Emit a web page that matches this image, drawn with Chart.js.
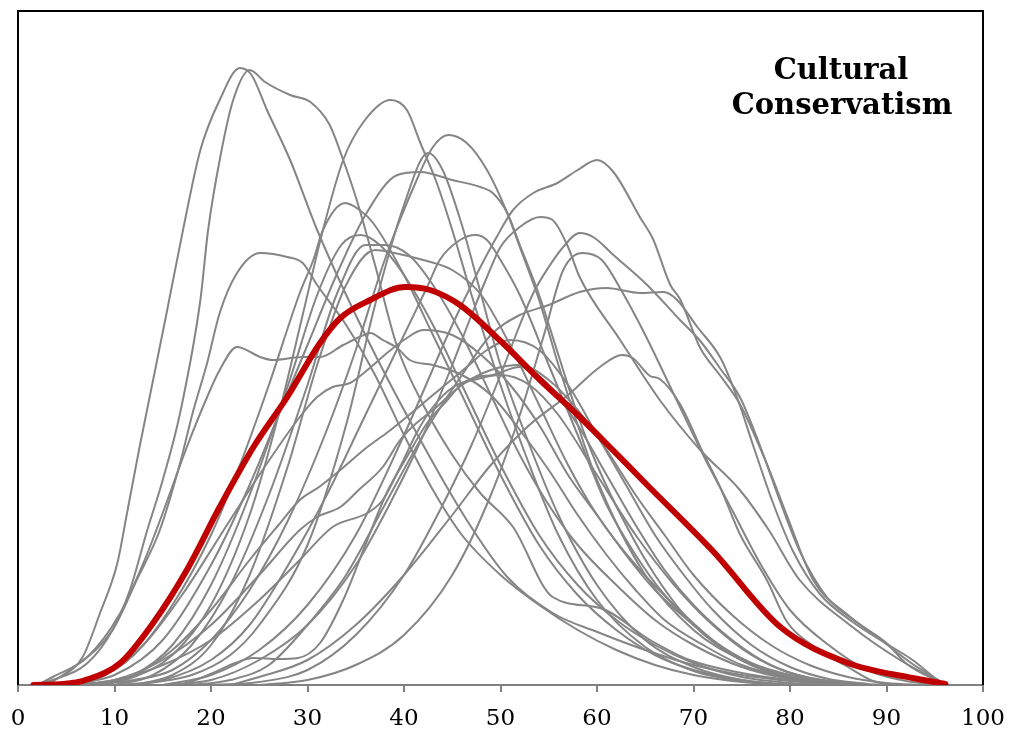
<!DOCTYPE html>
<html>
<head>
<meta charset="utf-8">
<script src="https://cdn.jsdelivr.net/npm/chart.js@4.4.1/dist/chart.umd.min.js"></script>
<style>
  html, body { margin: 0; padding: 0; background: #fff; }
  #wrap { width: 1012px; height: 734px; }
</style>
</head>
<body>
<div id="wrap"><canvas id="myChart" width="1012" height="734"></canvas></div>
<script>
// ------------------------ data: [score, density] pairs ------------------------
var xTicks = [0, 10, 20, 30, 40, 50, 60, 70, 80, 90, 100];
var chartTitle = ["Cultural", "Conservatism"];

// pooled curve (red)
var mean = [[1.6,0],[4.7,1],[7,5],[10.6,22],[14,62],[17.5,115],[20.9,178],[24.4,238],[27.9,288],[31.3,342],[33.4,367],[36.5,385],[40.1,398],[42.7,395],[45.8,380],[49.9,345],[54.1,305],[58,270],[60.3,248],[65.2,200],[72,134],[79,58],[86,22],[92.7,7],[96.1,1]];

// individual curves (grey)
var g1 = [[2,0],[4.4,8],[6.7,28],[8.5,72],[10.3,122],[11.3,172],[12.6,238],[14,305],[15.4,372],[17.1,455],[18.9,535],[20.9,585],[23,617],[24.2,610],[25.8,575],[28.2,525],[31,455],[36,350],[41.3,252],[46.5,165],[50.7,108],[55.4,72],[60.3,52],[65,35],[70,20],[75,10],[80,4],[85,0]];
var g2 = [[2,0],[3.6,5],[7.2,22],[9.8,55],[11.6,95],[13.4,155],[15,205],[16.8,272],[18.9,385],[19.7,455],[21,530],[22.3,585],[24,615],[25.6,603],[28.2,590],[30.3,583],[32.3,560],[33.7,525],[35.1,485],[37,420],[39.3,338],[42,280],[45,230],[47.9,192],[51.3,158],[55.4,88],[60.3,77],[65.5,45],[69.6,25],[75,12],[80,5],[86,0]];
var g3 = [[8,0],[12,8],[16,30],[20,80],[24,170],[27,270],[29.5,370],[31.6,455],[33.7,525],[35.8,563],[38.6,585],[40.3,575],[41.7,542],[43.4,502],[45,455],[47,390],[50,300],[53,220],[56,150],[60,85],[65,38],[70,14],[75,4],[80,0]];
var g4 = [[8,0],[12,5],[16,15],[20,45],[24,95],[28,165],[32,255],[35,335],[38,425],[41,498],[43,538],[44.6,550],[46.5,542],[48.6,515],[50.7,472],[52,438],[54,385],[56,320],[58,260],[60,205],[65,110],[70,55],[75,25],[80,8],[85,1]];
var g5 = [[12,0],[18,10],[22,30],[25,60],[30,140],[34,260],[37,380],[40,480],[42.5,532],[44,515],[46,460],[48,390],[50,320],[53,240],[56,170],[60,100],[65,45],[70,18],[75,5],[80,0]];
var g6 = [[15,0],[20,10],[25,35],[30,80],[35,150],[40,250],[45,360],[47.5,410],[49.6,448],[51.3,475],[53.4,492],[55.9,502],[58,515],[60,525],[61.7,513],[64.5,467],[65.8,446],[67.6,400],[68.6,386],[70.7,337],[72.8,309],[74.8,281],[77.6,221],[79.7,169],[82.4,105],[86,70],[89.3,46],[92.7,21],[96,1]];
var g7 = [[5,1],[10,10],[15,45],[20,120],[24,200],[27,270],[30,340],[33,410],[36,470],[39.3,510],[41.7,513],[45,505],[47.9,498],[49.2,492],[50.7,472],[52,440],[54,390],[56,330],[58,270],[60,220],[63,160],[66,110],[70,60],[75,25],[80,8],[85,1]];
var g8 = [[6,0],[8,5],[12,30],[16,80],[20,150],[23,220],[26,300],[29.2,392],[30.6,425],[31.6,455],[33.9,482],[35.4,475],[36.8,462],[40,410],[43,350],[46,290],[50,210],[54,140],[58,90],[62,55],[66,30],[70,15],[75,5],[80,0]];
var g9 = [[15,0],[20,5],[25,25],[30,60],[35,120],[39,190],[42,250],[45,320],[47,370],[48.6,408],[50,438],[52,458],[54.1,468],[55.4,465],[57,438],[58.2,408],[62.4,345],[66.5,285],[70.7,235],[74.8,195],[77.8,155],[81,105],[86.2,60],[91.4,25],[96,1]];
var g10 = [[20,0],[25,3],[30,15],[35,50],[40,110],[44,180],[47,240],[50,310],[52,360],[53.4,392],[55,418],[56.5,438],[58.2,452],[59.6,448],[61.7,430],[65.2,400],[68.6,365],[70.7,344],[72.8,316],[74.8,288],[76.9,239],[79,183],[81,134],[83.8,88],[86.9,63],[90,42],[92.1,21],[96,1]];
var g11 = [[10,0],[15,5],[20,25],[24,60],[28,120],[32,190],[36,270],[40,350],[42.4,398],[43.7,425],[45.8,445],[47.4,450],[48.6,445],[50,425],[52,390],[55,320],[58,250],[61,180],[64,130],[67,90],[70,60],[75,25],[80,8],[85,1]];
var g12 = [[3,0],[5.4,15],[9.8,55],[12.3,105],[14.7,155],[16.8,222],[18.1,272],[19.6,322],[20.9,372],[22.7,412],[25.1,432],[27.9,428],[29.5,422],[31,400],[34,360],[37,310],[40,250],[43,195],[46,150],[50,110],[54,80],[58,55],[62,35],[66,20],[70,10],[75,3],[80,0]];
var g13 = [[8,0],[12,10],[16,40],[20,100],[24,190],[28,300],[31,390],[33.5,440],[35.5,450],[37.5,440],[40,410],[43,360],[46,300],[50,220],[54,150],[58,100],[62,65],[66,40],[70,22],[75,8],[80,2],[84,0]];
var g14 = [[10,0],[14,10],[18,40],[22,100],[26,190],[30,300],[33,390],[36,440],[38,440],[40.5,430],[43,400],[46,350],[49,290],[52,230],[55,180],[58,140],[62,100],[66,65],[70,40],[75,18],[80,6],[85,1]];
var g15 = [[12,0],[16,10],[20,40],[24,110],[28,220],[31,320],[34,400],[37,435],[39,432],[42,425],[45,415],[48,390],[51,340],[54,280],[57,220],[60,170],[64,120],[68,80],[72,45],[76,22],[80,10],[85,2]];
var g16 = [[25,0],[30,5],[35,20],[40,50],[45,110],[49,190],[52,270],[54.5,350],[56.5,415],[58.5,432],[60.5,425],[62.5,395],[65,350],[68,290],[71,230],[74,175],[77,120],[80,75],[84,40],[88,15],[92,4],[96,0]];
var g17 = [[2,0],[3.6,8],[7.2,28],[10.6,72],[13,122],[15,172],[17.5,238],[19.6,288],[20.9,315],[22.7,338],[25.1,328],[26.4,325],[29.5,328],[31.3,328],[33.7,340],[35.4,348],[36.5,352],[37.8,345],[39.3,337],[40.6,325],[43,320],[46,310],[49,290],[52,255],[55,215],[58,170],[61,130],[64,95],[67,65],[71,40],[75,20],[80,7],[85,1]];
var g18 = [[18,0],[22,5],[26,20],[30,60],[34,110],[38,180],[42,250],[46,310],[49,350],[52,370],[55,380],[58.2,393],[61,397],[64.5,392],[66.9,393],[68.2,386],[70.4,358],[72.8,327],[74.5,288],[76.2,239],[78.2,183],[80.3,134],[83.1,91],[86.5,63],[90.4,39],[92.7,25],[95.5,4],[96.5,0]];
var g19 = [[22,0],[25,8],[30,25],[35,60],[40,110],[45,170],[49,220],[53,260],[57,290],[60.3,318],[62.6,330],[63.7,327],[65.5,309],[66.5,306],[68.6,281],[71,232],[72.8,197],[74.8,151],[77.6,105],[79.7,63],[82.4,39],[86,18],[88.6,4],[91,0]];
var g20 = [[15,0],[17,1],[20.2,12],[22.5,22],[24.4,27],[27,26],[29,27],[31.3,42],[33.7,85],[36.2,145],[38.2,192],[40.3,228],[42.4,262],[44.5,285],[46.1,302],[47.6,308],[49.2,310],[52,318],[55,300],[58,260],[61,210],[64,160],[67,115],[70,80],[74,45],[78,20],[82,7],[86,1],[88,0]];
var g21 = [[6,0],[10,5],[15,20],[20,45],[25,85],[29.2,125],[32.6,158],[36.2,172],[37.8,185],[39.6,218],[41.3,252],[43,278],[45.1,298],[47.2,305],[50,310],[53,300],[56,270],[60,210],[64,150],[68,100],[72,60],[76,30],[80,12],[85,3],[90,0]];
var g22 = [[6,0],[10,5],[15,25],[20,60],[25,110],[29.2,155],[31,168],[33.4,178],[35.3,195],[37.8,218],[39.6,245],[41.3,262],[43,275],[46,300],[49,315],[52,320],[55,305],[58,275],[61,235],[64,190],[67,150],[70,110],[74,70],[78,40],[82,20],[86,8],[90,2],[94,0]];
var g23 = [[8,0],[12,10],[16,35],[20,75],[24,125],[27,160],[29.2,185],[31.2,198],[33.4,215],[36.2,238],[38.2,252],[39.9,265],[43,290],[46.5,318],[48.6,335],[51,345],[54,335],[57,300],[60,250],[63,200],[66,150],[69,110],[72,75],[76,40],[80,18],[84,6],[88,1]];
var g24 = [[5,0],[9,10],[13,40],[17,90],[21,150],[25,210],[29.2,268],[31,288],[32.6,298],[34.4,302],[36.2,315],[38,330],[40,345],[42,355],[45,350],[48,330],[51,300],[54,260],[57,210],[60,170],[63,130],[66,95],[70,60],[74,30],[78,12],[82,4],[86,0]];

var greyCurves = [g1,g2,g3,g4,g5,g6,g7,g8,g9,g10,g11,g12,g13,g14,g15,g16,g17,g18,g19,g20,g21,g22,g23,g24];

function toPoints(arr) {
    return arr.map(function (p) { return { x: p[0], y: p[1] }; });
}

// red first so it is painted last (on top)
var datasets = [{
    data: toPoints(mean),
    borderColor: '#C00000',
    borderWidth: 6,
    borderCapStyle: 'round',
    borderJoinStyle: 'round'
}];
greyCurves.forEach(function (c) {
    datasets.push({
        data: toPoints(c),
        borderColor: '#858585',
        borderWidth: 2
    });
});

// frame (black on left/top/right) and the title inside the plot
var framePlugin = {
    id: 'frame',
    afterDraw: function (chart) {
        var a = chart.chartArea, ctx = chart.ctx;
        ctx.save();
        ctx.strokeStyle = '#000';
        ctx.lineWidth = 2;
        ctx.beginPath();
        ctx.moveTo(a.left, a.bottom);
        ctx.lineTo(a.left, a.top);
        ctx.lineTo(a.right, a.top);
        ctx.lineTo(a.right, a.bottom);
        ctx.stroke();
        ctx.fillStyle = '#000';
        ctx.font = 'bold 29px "DejaVu Serif"';
        ctx.textAlign = 'center';
        ctx.textBaseline = 'alphabetic';
        ctx.fillText(chartTitle[0], 841, 79);
        ctx.fillText(chartTitle[1], 842, 114);
        ctx.restore();
    }
};

var ctx = document.getElementById("myChart").getContext('2d');
var myChart = new Chart(ctx, {
    type: 'line',
    data: { datasets: datasets },
    options: {
        responsive: false,
        animation: false,
        events: [],
        layout: { padding: { left: 18, right: 29, top: 11, bottom: 0 } },
        elements: {
            point: { radius: 0 },
            line: { cubicInterpolationMode: 'monotone', fill: false }
        },
        plugins: { legend: { display: false }, tooltip: { enabled: false } },
        scales: {
            x: {
                type: 'linear',
                min: 0,
                max: 100,
                afterBuildTicks: function (axis) {
                    axis.ticks = xTicks.map(function (v) { return { value: v }; });
                },
                afterFit: function (axis) {
                    axis.height = 49;
                    axis.paddingLeft = 0;
                    axis.paddingRight = 0;
                },
                border: { display: true, color: '#808080', width: 2 },
                grid: { drawOnChartArea: false, drawTicks: true, tickLength: 7, color: '#808080', lineWidth: 2 },
                ticks: { color: '#000', padding: 13, maxRotation: 0, font: { family: '"DejaVu Serif"', size: 23 } }
            },
            y: {
                display: false,
                min: 0,
                max: 674
            }
        }
    },
    plugins: [framePlugin]
});
</script>
</body>
</html>
